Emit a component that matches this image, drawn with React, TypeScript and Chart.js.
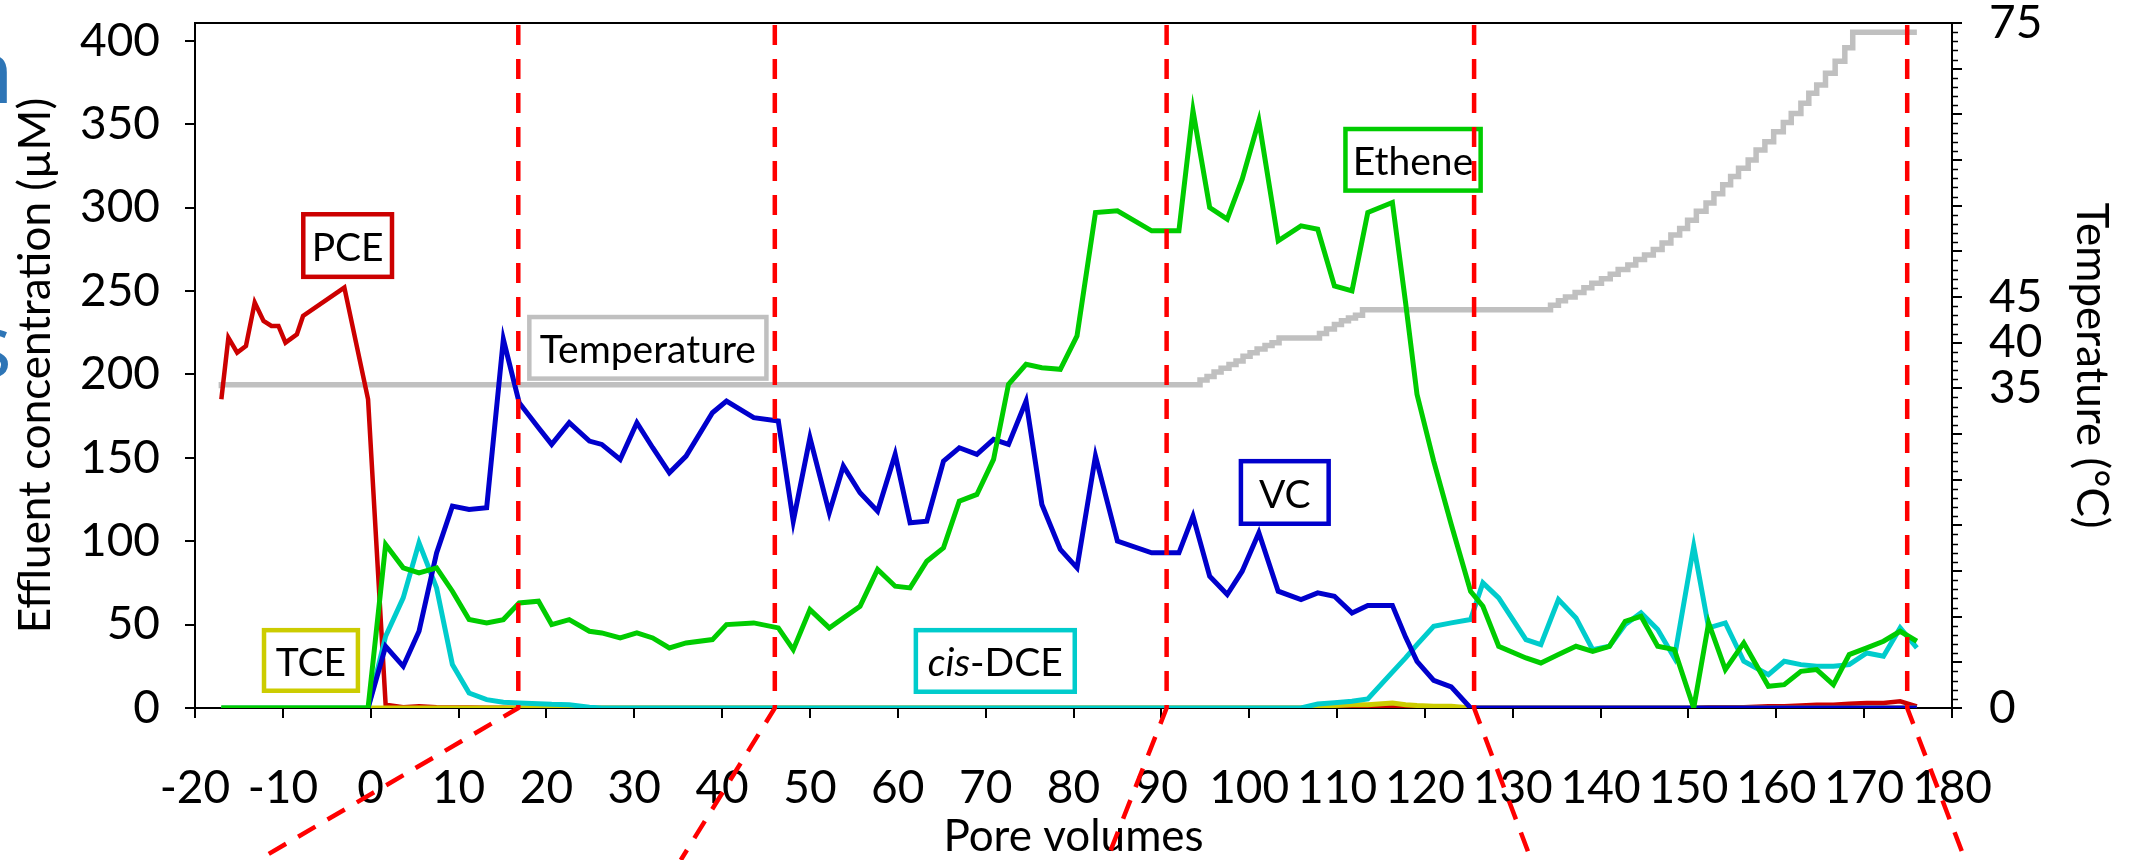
import React, { useEffect, useRef } from 'react';
import { Chart, registerables } from 'chart.js';

Chart.register(...registerables);

const FONT = 'Lato, "Open Sans", sans-serif';

// ---- Data ----
const poreVolumes = [
  -17.0, -16.2, -15.2, -14.2, -13.2, -12.2, -11.3, -10.5, -9.7, -8.4, -7.7, -3.0, -0.3,
  1.7, 3.7, 5.5, 7.5, 9.3, 11.2, 13.2, 15.1, 16.9, 19.1, 20.6, 22.6, 24.9, 26.3, 28.4,
  30.3, 32.1, 34.0, 35.9, 38.9, 40.5, 43.6, 46.4, 48.1, 50.0, 52.2, 53.8, 55.7, 57.7,
  59.7, 61.4, 63.3, 65.2, 67.0, 69.0, 70.9, 72.6, 74.6, 76.4, 78.5, 80.4, 82.5, 85.0,
  88.9, 92.0, 93.6, 95.5, 97.5, 99.2, 101.1, 103.3, 105.9, 107.8, 109.7, 111.7, 113.5,
  116.3, 117.8, 119.1, 121.0, 123.0, 125.2, 126.6, 128.4, 131.5, 133.2, 135.2, 137.2,
  139.1, 141.0, 142.8, 144.6, 146.5, 148.4, 150.6, 152.3, 154.2, 156.3, 159.1, 160.9,
  162.8, 164.6, 166.5, 168.3, 170.3, 172.2, 174.1, 176.0,
];

const pce = [
  185, 222, 213, 217, 243, 232, 229, 229, 219, 224, 235, 252, 185,
  2, 0.5, 1, 0.5, 0.3, 0.3, 0.2, 0.2, 0, 0, 0, 0, 0, 0, 0,
  0, 0, 0, 0, 0, 0, 0, 0, 0, 0, 0, 0, 0, 0,
  0, 0, 0, 0, 0, 0, 0, 0, 0, 0, 0, 0, 0, 0,
  0, 0, 0, 0, 0, 0, 0, 0, 0, 0, 0, 0, 0,
  0.5, 0, 0, 0, 0, 0, 0, 0, 0, 0, 0, 0,
  0, 0, 0, 0, 0, 0, 0, 0.5, 0.5, 0.5, 1, 1,
  1.5, 2, 2, 2.5, 3, 3, 4, 1,
];

const tce = [
  0, 0, 0, 0, 0, 0, 0, 0, 0, 0, 0, 0, 0,
  0, 0, 0, 0, 0, 0, 0, 0, 0, 0, 0, 0, 0, 0, 0,
  0, 0, 0, 0, 0, 0, 0, 0, 0, 0, 0, 0, 0, 0,
  0, 0, 0, 0, 0, 0, 0, 0, 0, 0, 0, 0, 0, 0,
  0, 0, 0, 0, 0, 0, 0, 0, 0, 1, 1.5, 2, 2,
  3, 2, 1.5, 1, 1, 0, 0, 0, 0, 0, 0, 0,
  0, 0, 0, 0, 0, 0, 0, 0, 0, 0, 0, 0,
  0, 0, 0, 0, 0, 0, 0, 0,
];

const cisDce = [
  0, 0, 0, 0, 0, 0, 0, 0, 0, 0, 0, 0, 0,
  43, 66, 99, 72, 26, 9, 5, 3.5, 3, 2.6, 2.2, 2, 0.5, 0, 0,
  0, 0, 0, 0, 0, 0, 0, 0, 0, 0, 0, 0, 0, 0,
  0, 0, 0, 0, 0, 0, 0, 0, 0, 0, 0, 0, 0, 0,
  0, 0, 0, 0, 0, 0, 0, 0, 0, 2.4, 3.2, 4, 5.4,
  21.5, 30, 38, 49, 51, 53, 75, 66, 41, 38, 65, 54,
  35, 37, 50, 57, 47, 30, 97, 48, 51, 28, 20, 28,
  26, 25, 25, 26, 33, 31, 48, 36,
];

const vc = [
  null, null, null, null, null, null, null, null, null, null, null, null, 0,
  37, 25, 46, 93, 121, 119, 120, 221, 183, 168, 158, 171, 160, 158, 149,
  171, 156, 141, 151, 177, 184, 174, 172, 112, 162, 117, 145, 129, 118,
  152, 111, 112, 148, 156, 152, 161, 158, 184, 122, 95, 84, 151, 100,
  93, 93, 115, 79, 68, 82, 105, 70, 65, 69, 67, 57, 61.5,
  61.5, 42.5, 28, 16.6, 12.7, 0, 0, 0, 0, 0, 0, 0,
  0, 0, 0, 0, 0, 0, 0, 0, 0, 0, 0, 0,
  0, 0, 0, 0, 0, 0, 0, 0,
];

const ethene = [
  0, 0, 0, 0, 0, 0, 0, 0, 0, 0, 0, 0, 0,
  98, 84, 81, 84, 70, 53, 51, 53, 63, 64, 50, 53, 46, 45, 42,
  45, 42, 36, 39, 41, 50, 51, 48, 35, 59, 48, 54, 61, 83,
  73, 72, 88, 96, 124, 128, 149, 194, 206, 204, 203, 223, 297, 298,
  286, 286, 358, 300, 293, 317, 352, 280, 289, 287, 253, 250, 297,
  303, 243, 188, 148, 110, 70, 61, 37, 30, 27, 32, 37,
  34, 37, 52, 55, 37, 35, 0, 51, 23, 39, 13, 14,
  22, 23, 14, 32, 36, 40, 46, 40,
];

const tempPoreVolumes = [
  -17.0, 94.4, 95.2, 96.0, 96.8, 97.7, 98.5, 99.3, 100.1, 100.9, 101.8, 102.6, 103.4,
  108.0, 108.8, 109.7, 110.5, 111.3, 112.1, 112.9,
  134.3, 135.2, 136.0, 137.1, 138.1, 139.0, 140.1, 141.1, 142.0, 143.1, 144.0, 145.0,
  146.0, 147.0, 148.0, 149.0, 149.9, 150.9, 152.0, 152.9, 153.9, 154.8, 155.7, 156.8,
  157.7, 158.7, 159.7, 160.8, 161.7, 162.8, 163.7, 164.6, 165.6, 166.7, 167.8, 168.7,
  169.8, 176.0,
];

const temperature = [
  35.0, 35.4, 35.9, 36.3, 36.8, 37.2, 37.6, 38.0, 38.5, 38.9, 39.3, 39.7, 40.0,
  40.5, 41.0, 41.5, 42.0, 42.4, 42.7, 43.0,
  43.6, 44.1, 44.6, 45.0, 45.5, 46.0, 46.5, 47.0, 47.5, 48.0, 48.5, 49.1,
  49.6, 50.2, 50.9, 51.8, 52.5, 53.4, 54.4, 55.3, 56.3, 57.3, 58.2, 59.1,
  60.0, 61.1, 62.0, 63.1, 64.1, 65.1, 66.2, 67.3, 68.2, 69.5, 70.8, 72.3,
  74.0, 74.0,
];

const tempTickLabels = [0, 35, 40, 45, 75];
const phaseBoundaries = [16.8, 46.0, 90.6, 125.6, 174.9];
const phaseGuideEnds = [-12.8, 35.3, 83.8, 132.1, 181.5];

// ---- annotation boxes (data coordinates of outer edges) ----
const labelBoxes = [
  { parts: [{ t: 'PCE' }], color: '#cc0000', x0: -7.93, x1: 2.68, y0: 297.3, y1: 257.1 },
  { parts: [{ t: 'Temperature' }], color: '#c0c0c0', x0: 17.8, x1: 45.3, y0: 235.7, y1: 196.1 },
  { parts: [{ t: 'Ethene' }], color: '#00cc00', x0: 110.7, x1: 126.6, y0: 348.4, y1: 308.8 },
  { parts: [{ t: 'VC' }], color: '#0000cc', x0: 98.8, x1: 109.3, y0: 149.3, y1: 109.1 },
  { parts: [{ t: 'TCE' }], color: '#cccc00', x0: -12.4, x1: -1.2, y0: 48.0, y1: 9.0 },
  { parts: [{ t: 'cis', italic: true }, { t: '-DCE' }], color: '#00cccc', x0: 61.8, x1: 80.4, y0: 48.0, y1: 8.4 },
];

const boxesPlugin = {
  id: 'labelBoxes',
  afterDatasetsDraw(chart: any) {
    const { ctx, scales } = chart;
    const x = scales.x, y = scales.y;
    const lw = 4.5;
    const size = 39;
    ctx.save();
    for (const b of labelBoxes) {
      const l = x.getPixelForValue(b.x0) + lw / 2;
      const r = x.getPixelForValue(b.x1) - lw / 2;
      const t = y.getPixelForValue(b.y0) + lw / 2;
      const bt = y.getPixelForValue(b.y1) - lw / 2;
      ctx.setLineDash([]);
      ctx.fillStyle = '#ffffff';
      ctx.fillRect(l, t, r - l, bt - t);
      ctx.strokeStyle = b.color;
      ctx.lineWidth = lw;
      ctx.lineJoin = 'miter';
      ctx.strokeRect(l, t, r - l, bt - t);
      const fonts = b.parts.map((p: any) => `${p.italic ? 'italic ' : ''}${size}px ${FONT}`);
      let total = 0;
      const widths = b.parts.map((p: any, i: number) => {
        ctx.font = fonts[i];
        const w = ctx.measureText(p.t).width;
        total += w;
        return w;
      });
      let cx = (l + r) / 2 - total / 2;
      const baseY = (t + bt) / 2 + size * 0.36 + 1.5;
      ctx.fillStyle = '#000';
      ctx.textAlign = 'left';
      ctx.textBaseline = 'alphabetic';
      b.parts.forEach((p: any, i: number) => {
        ctx.font = fonts[i];
        ctx.fillText(p.t, cx, baseY);
        cx += widths[i];
      });
    }
    ctx.restore();
  },
};

const decorPlugin = {
  id: 'decor',
  afterDraw(chart: any) {
    const { ctx, chartArea, scales } = chart;
    const x = scales.x, y1 = scales.y1;
    ctx.save();
    // top frame line
    ctx.setLineDash([]);
    ctx.strokeStyle = '#000';
    ctx.lineWidth = 2;
    ctx.beginPath();
    ctx.moveTo(chartArea.left - 1, chartArea.top);
    ctx.lineTo(chartArea.right + 1, chartArea.top);
    ctx.stroke();
    // minor ticks on temperature axis
    ctx.lineWidth = 1.5;
    for (let t = 0; t <= 75; t++) {
      if (t % 5 === 0) continue;
      const py = Math.round(y1.getPixelForValue(t)) + 0.5;
      ctx.beginPath();
      ctx.moveTo(chartArea.right, py);
      ctx.lineTo(chartArea.right + 6, py);
      ctx.stroke();
    }
    // phase boundaries (red dashed) with guide lines below the axis
    ctx.strokeStyle = '#ff0000';
    ctx.lineWidth = 4.5;
    ctx.setLineDash([20, 14]);
    ctx.lineJoin = 'round';
    phaseBoundaries.forEach((pv, i) => {
      const px = x.getPixelForValue(pv);
      ctx.beginPath();
      ctx.moveTo(px, chartArea.top + 2);
      ctx.lineTo(px, chartArea.bottom);
      ctx.lineTo(x.getPixelForValue(phaseGuideEnds[i]), chart.height);
      ctx.stroke();
    });
    // cropped slide-title fragments at the left edge
    ctx.setLineDash([]);
    ctx.fillStyle = '#2e75b6';
    ctx.textAlign = 'right';
    ctx.textBaseline = 'alphabetic';
    ctx.font = `88px "Open Sans", sans-serif`;
    ctx.fillText('n', 14, 103);
    ctx.fillText('s', 12, 377);
    ctx.restore();
  },
};

export default function App() {
  const ref = useRef<HTMLCanvasElement | null>(null);

  useEffect(() => {
    document.body.style.margin = '0';
    const canvas = ref.current;
    if (!canvas) return;
    const pts = (vals: (number | null)[]) => poreVolumes.map((xv, i) => ({ x: xv, y: vals[i] }));
    const tickFont = { family: FONT, size: 46, lineHeight: 1 };
    const titleFont = { family: FONT, size: 44, lineHeight: 1 };
    const lw = 5;

    const chart = new Chart(canvas, {
      type: 'line',
      data: {
        datasets: [
          { label: 'Ethene', data: pts(ethene), borderColor: '#00cc00', borderWidth: lw, order: 0 },
          { label: 'VC', data: pts(vc), borderColor: '#0000cc', borderWidth: lw, order: 1 },
          { label: 'cis-DCE', data: pts(cisDce), borderColor: '#00cccc', borderWidth: lw, order: 2 },
          { label: 'TCE', data: pts(tce), borderColor: '#cccc00', borderWidth: lw, order: 3 },
          { label: 'PCE', data: pts(pce), borderColor: '#cc0000', borderWidth: 4.5, order: 4 },
          {
            label: 'Temperature',
            data: tempPoreVolumes.map((xv, i) => ({ x: xv, y: temperature[i] })),
            yAxisID: 'y1',
            stepped: 'after',
            borderColor: '#c0c0c0',
            borderWidth: 5.5,
            order: 5,
          },
        ] as any,
      },
      options: {
        responsive: false,
        animation: false,
        devicePixelRatio: 1,
        layout: { padding: { top: 23, left: 0, right: 0, bottom: 0 } },
        elements: { point: { radius: 0, hoverRadius: 0 }, line: { tension: 0, fill: false } },
        plugins: { legend: { display: false }, tooltip: { enabled: false } },
        events: [],
        scales: {
          x: {
            type: 'linear',
            min: -20,
            max: 180,
            ticks: { stepSize: 10, font: tickFont, color: '#000', padding: 47, maxRotation: 0, autoSkip: false },
            grid: { drawOnChartArea: false, drawTicks: true, tickLength: 10, color: '#000', lineWidth: 2 },
            border: { display: true, color: '#000', width: 2 },
            title: { display: true, text: 'Pore volumes', font: titleFont, color: '#000', padding: { top: 0, bottom: 1 } },
            afterFit: (s: any) => { s.height = 152; s.paddingLeft = 0; s.paddingRight = 0; },
          },
          y: {
            type: 'linear',
            position: 'left',
            min: 0,
            max: 410.6,
            ticks: { stepSize: 50, includeBounds: false, font: tickFont, color: '#000', padding: 25 },
            grid: { drawOnChartArea: false, drawTicks: true, tickLength: 10, color: '#000', lineWidth: 2 },
            border: { display: true, color: '#000', width: 2 },
            title: { display: true, text: 'Effluent concentration (µM)', font: titleFont, color: '#000', padding: { top: 14, bottom: 0 } },
            afterFit: (s: any) => { s.width = 195; s.paddingTop = 0; s.paddingBottom = 0; },
          },
          y1: {
            type: 'linear',
            position: 'right',
            min: 0,
            max: 75,
            ticks: {
              stepSize: 5,
              autoSkip: false,
              font: tickFont,
              color: '#000',
              padding: 27,
              callback: (v: any) => (tempTickLabels.includes(Number(v)) ? String(v) : ''),
            },
            grid: { drawOnChartArea: false, drawTicks: true, tickLength: 10, color: '#000', lineWidth: 2 },
            border: { display: true, color: '#000', width: 2 },
            title: { display: true, text: 'Temperature (°C)', font: titleFont, color: '#000', padding: { top: 30, bottom: 0 } },
            afterFit: (s: any) => { s.width = 191; s.paddingTop = 0; s.paddingBottom = 0; },
          },
        },
      } as any,
      plugins: [boxesPlugin, decorPlugin],
    });
    return () => chart.destroy();
  }, []);

  return (
    <div style={{ position: 'absolute', left: 0, top: 0, width: 2143, height: 860, background: '#fff' }}>
      <canvas ref={ref} width={2143} height={860} style={{ display: 'block' }} />
    </div>
  );
}
